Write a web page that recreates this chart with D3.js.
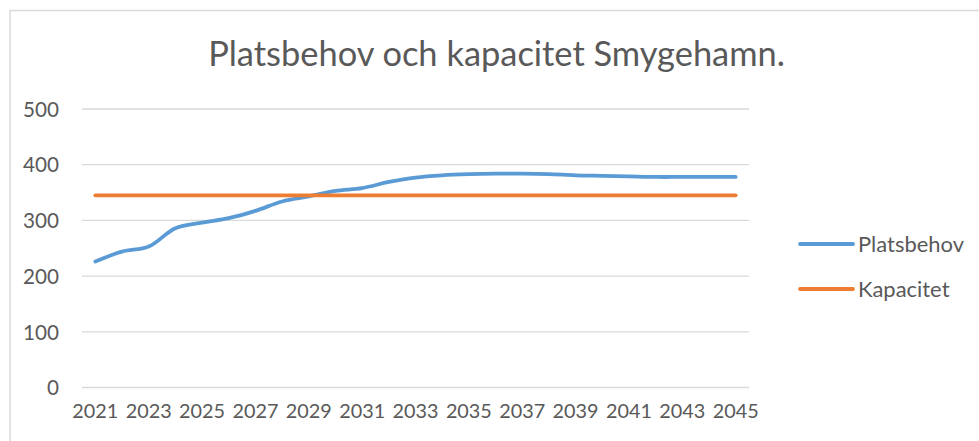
<!DOCTYPE html>
<html>
<head>
<meta charset="utf-8">
<script src="https://cdn.jsdelivr.net/npm/d3@7"></script>
<style>
html,body{margin:0;padding:0;background:#fff;}
svg{display:block;}
text{font-family:Lato,"Open Sans",sans-serif;fill:#595959;}
</style>
</head>
<body>
<svg id="chart" width="979" height="441"></svg>
<script>
const years = [2021,2022,2023,2024,2025,2026,2027,2028,2029,2030,2031,2032,2033,2034,2035,2036,2037,2038,2039,2040,2041,2042,2043,2044,2045];
const platsbehov = [226,244,253,286,296,304,317,334,343,353,358,369,377,381,383,384,384,383,381,380,379,378,378,378,378];
const kapacitet = [345,345,345,345,345,345,345,345,345,345,345,345,345,345,345,345,345,345,345,345,345,345,345,345,345];
const yTicks = [0,100,200,300,400,500];
const title = "Platsbehov och kapacitet Smygehamn.";
const seriesNames = ["Platsbehov","Kapacitet"];
const colors = ["#5B9BD5","#ED7D31"];

const svg = d3.select("#chart");
// chart border (left and top visible)
svg.append("path").attr("d","M10,441 V10.5 H979").attr("fill","none").attr("stroke","#D9D9D9").attr("stroke-width",1.5);

const plotL = 82, plotR = 749, plotT = 109, plotB = 387.5;
const x = d3.scaleBand().domain(years).range([plotL,plotR]);
const y = d3.scaleLinear().domain([0,500]).range([plotB,plotT]);

function fit(sel, base, target){
  const w = sel.node().getComputedTextLength();
  return base*target/w;
}

// gridlines
svg.append("g").selectAll("line").data(yTicks).join("line")
  .attr("x1",plotL).attr("x2",plotR)
  .attr("y1",d=>y(d)).attr("y2",d=>y(d))
  .attr("stroke","#D9D9D9").attr("stroke-width",1.3);

// y axis labels
const yAxis = d3.axisLeft(y).tickValues(yTicks).tickSize(0).tickPadding(0);
const gy = svg.append("g").attr("transform","translate(59,0)").call(yAxis);
gy.select(".domain").remove();
gy.selectAll("text").style("font-size","18px").style("font-family","Lato").attr("fill","#595959").attr("dy","0.35em");
const ySize = fit(gy.selectAll("text").filter(d=>d===500), 18, 36);
gy.selectAll("text").style("font-size",ySize.toFixed(2)+"px");

// x axis labels
const xAxis = d3.axisBottom(x).tickValues(years.filter((d,i)=>i%2===0)).tickSize(0).tickPadding(0);
const gx = svg.append("g").attr("transform","translate(0,404)").call(xAxis);
gx.select(".domain").remove();
gx.selectAll("text").style("font-size","18px").style("font-family","Lato").attr("fill","#595959").attr("dy","0.71em");
const xSize = fit(gx.select("text"), 18, 46);
gx.selectAll("text").style("font-size",xSize.toFixed(2)+"px");

const line = d3.line().x((d,i)=>x(years[i])+x.bandwidth()/2).y(d=>y(d)).curve(d3.curveCatmullRom.alpha(0.5));
[platsbehov,kapacitet].forEach((s,k)=>{
  svg.append("path").datum(s).attr("d",line).attr("fill","none")
    .attr("stroke",colors[k]).attr("stroke-width",3.8)
    .attr("stroke-linecap","round").attr("stroke-linejoin","round");
});

// title
const t = svg.append("text").attr("x",(208+785)/2).attr("y",66).attr("text-anchor","middle")
  .style("font-size","30px").text(title);
t.style("font-size",fit(t,30,577).toFixed(2)+"px");

// legend
const legY = [244,289];
const legTexts = [];
seriesNames.forEach((n,k)=>{
  svg.append("line").attr("x1",800).attr("x2",853).attr("y1",legY[k]).attr("y2",legY[k])
    .attr("stroke",colors[k]).attr("stroke-width",3.8).attr("stroke-linecap","round");
  legTexts.push(svg.append("text").attr("x",858).attr("y",legY[k]).attr("dy","0.35em")
    .style("font-size","18px").text(n));
});
const lSize = fit(legTexts[0],18,106);
legTexts.forEach(tt=>tt.style("font-size",lSize.toFixed(2)+"px"));
</script>
</body>
</html>
